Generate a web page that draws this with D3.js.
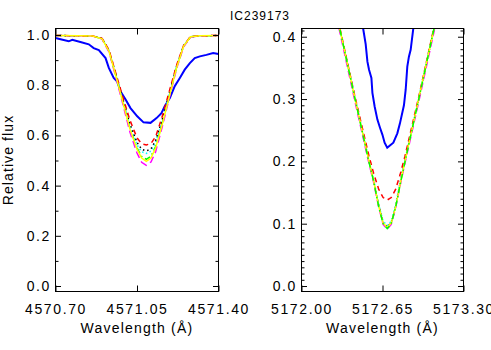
<!DOCTYPE html>
<html>
<head>
<meta charset="utf-8">
<script src="https://cdn.jsdelivr.net/npm/d3@7"></script>
<style>
  body { margin: 0; background: #fff; }
  svg text { font-family: "Liberation Sans", Arial, sans-serif; fill: #000; }
</style>
</head>
<body>
<div id="chart"></div>
<script>
const title = 'IC239173';

// left panel, line near 4571.05 A
const xTicksL = [4570.70, 4571.05, 4571.40];
const yTicksL = [0.0, 0.2, 0.4, 0.6, 0.8, 1.0];
const yMinorL = [0.1, 0.3, 0.5, 0.7, 0.9];

const obsWaveL = [4570.700, 4570.726, 4570.757, 4570.772, 4570.807, 4570.843, 4570.864, 4570.886, 4570.915, 4570.929,
  4570.950, 4570.965, 4570.979, 4571.001, 4571.022, 4571.051, 4571.078, 4571.108, 4571.134, 4571.155,
  4571.169, 4571.191, 4571.212, 4571.234, 4571.255, 4571.277, 4571.298, 4571.320, 4571.348, 4571.377, 4571.400];
const obsFluxL = [0.988, 0.982, 0.975, 0.981, 0.972, 0.963, 0.948, 0.940, 0.908, 0.869,
  0.829, 0.815, 0.776, 0.743, 0.709, 0.676, 0.652, 0.650, 0.669, 0.689,
  0.716, 0.749, 0.796, 0.829, 0.862, 0.888, 0.908, 0.915, 0.921, 0.928, 0.924];

const modWaveL = [4570.70, 4570.80, 4570.86, 4570.90, 4570.93, 4570.96, 4570.99, 4571.02, 4571.05, 4571.07,
  4571.09, 4571.11, 4571.13, 4571.16, 4571.19, 4571.22, 4571.25, 4571.28, 4571.32, 4571.40];
const yellowL  = [0.998, 0.997, 0.996, 0.985, 0.935, 0.835, 0.730, 0.625, 0.545, 0.510,
  0.497, 0.510, 0.550, 0.650, 0.760, 0.870, 0.955, 0.993, 0.997, 0.998];
const greenL   = [0.998, 0.997, 0.996, 0.985, 0.936, 0.836, 0.732, 0.628, 0.550, 0.516,
  0.505, 0.517, 0.556, 0.654, 0.762, 0.871, 0.955, 0.993, 0.997, 0.998];
const cyanL    = [0.998, 0.997, 0.996, 0.986, 0.937, 0.838, 0.737, 0.638, 0.562, 0.535,
  0.528, 0.537, 0.572, 0.662, 0.768, 0.874, 0.956, 0.993, 0.997, 0.998];
const blackL   = [0.998, 0.997, 0.996, 0.986, 0.938, 0.840, 0.742, 0.645, 0.572, 0.545,
  0.538, 0.546, 0.580, 0.668, 0.772, 0.876, 0.957, 0.993, 0.997, 0.998];
const magentaL = [0.998, 0.997, 0.996, 0.984, 0.932, 0.830, 0.722, 0.612, 0.530, 0.493,
  0.481, 0.494, 0.535, 0.640, 0.755, 0.866, 0.953, 0.992, 0.997, 0.998];
const redL     = [0.998, 0.997, 0.996, 0.987, 0.940, 0.845, 0.750, 0.660, 0.590, 0.567,
  0.562, 0.568, 0.595, 0.680, 0.780, 0.880, 0.958, 0.994, 0.997, 0.998];

// right panel, Mg b line near 5172.7 A
const xTicksR = [5172.00, 5172.65, 5173.30];
const yTicksR = [0.0, 0.1, 0.2, 0.3, 0.4];
const yMinorR = [0.01, 0.02, 0.03, 0.04, 0.05, 0.06, 0.07, 0.08, 0.09,
  0.11, 0.12, 0.13, 0.14, 0.15, 0.16, 0.17, 0.18, 0.19,
  0.21, 0.22, 0.23, 0.24, 0.25, 0.26, 0.27, 0.28, 0.29,
  0.31, 0.32, 0.33, 0.34, 0.35, 0.36, 0.37, 0.38, 0.39, 0.41];

const obsWaveR = [5172.470, 5172.494, 5172.515, 5172.529, 5172.542, 5172.561, 5172.569, 5172.587, 5172.609, 5172.630,
  5172.649, 5172.667, 5172.688, 5172.712, 5172.737, 5172.769, 5172.790, 5172.822, 5172.836, 5172.849,
  5172.862, 5172.876, 5172.897, 5172.920];
const obsFluxR = [0.460, 0.414, 0.388, 0.360, 0.347, 0.334, 0.310, 0.288, 0.267, 0.254,
  0.243, 0.230, 0.222, 0.226, 0.230, 0.245, 0.261, 0.290, 0.315, 0.352,
  0.368, 0.379, 0.413, 0.460];

const modWaveR = [5172.17, 5172.31, 5172.43, 5172.54, 5172.58, 5172.62, 5172.655, 5172.688,
  5172.72, 5172.755, 5172.79, 5172.83, 5172.94, 5173.06, 5173.20];
const yellowR  = [0.540, 0.410, 0.300, 0.202, 0.168, 0.128, 0.101, 0.094, 0.101, 0.127, 0.162, 0.200, 0.300, 0.410, 0.540];
const greenR   = [0.538, 0.410, 0.300, 0.200, 0.167, 0.127, 0.100, 0.092, 0.100, 0.126, 0.161, 0.199, 0.299, 0.410, 0.538];
const cyanR    = [0.540, 0.410, 0.301, 0.203, 0.170, 0.130, 0.104, 0.097, 0.104, 0.130, 0.165, 0.202, 0.301, 0.410, 0.540];
const blackR   = [0.540, 0.410, 0.301, 0.203, 0.169, 0.129, 0.102, 0.095, 0.102, 0.128, 0.164, 0.201, 0.300, 0.410, 0.540];
const magentaR = [0.535, 0.405, 0.295, 0.198, 0.165, 0.126, 0.099, 0.091, 0.099, 0.125, 0.160, 0.197, 0.295, 0.405, 0.535];
const redR     = [0.540, 0.412, 0.303, 0.210, 0.180, 0.155, 0.142, 0.138, 0.142, 0.155, 0.178, 0.208, 0.303, 0.412, 0.540];

const svg = d3.select('#chart').append('svg')
  .attr('width', 491)
  .attr('height', 350);

svg.append('text')
  .attr('x', 260)
  .attr('y', 20)
  .attr('text-anchor', 'middle')
  .style('font-size', '12px')
  .style('letter-spacing', '1px')
  .text(title);

svg.append('text')
  .attr('transform', 'translate(13,160) rotate(-90)')
  .attr('text-anchor', 'middle')
  .style('font-size', '14px')
  .style('letter-spacing', '1.1px')
  .text('Relative flux');

function panel(id, box, xDomain, yDomain, xTicks, yTicks, yMinor, fmtX, fmtY, obs, models) {
  let x = d3.scaleLinear().domain(xDomain).range([box.left, box.right]),
    y = d3.scaleLinear().domain(yDomain).range([box.bottom, box.top]);

  svg.append('clipPath')
    .attr('id', id)
    .append('rect')
    .attr('x', box.left)
    .attr('y', box.top)
    .attr('width', box.right - box.left)
    .attr('height', box.bottom - box.top);

  let line = d3.line()
    .x(d => x(d[0]))
    .y(d => y(d[1]));

  let g = svg.append('g').attr('clip-path', 'url(#' + id + ')');

  g.append('path')
    .datum(d3.zip(obs.wave, obs.flux))
    .attr('d', line)
    .attr('fill', 'none')
    .attr('stroke', '#0000ff')
    .attr('stroke-width', 2);

  models.forEach(m => {
    g.append('path')
      .datum(d3.zip(m.wave, m.flux))
      .attr('d', line)
      .attr('fill', 'none')
      .attr('stroke', m.color)
      .attr('stroke-width', 1.5)
      .attr('stroke-dasharray', m.dash);
  });

  // axes, ticks pointing inward
  let bottom = svg.append('g')
    .attr('transform', 'translate(0,' + box.bottom + ')')
    .call(d3.axisBottom(x).tickValues(xTicks).tickSize(-6).tickPadding(12.5).tickFormat(fmtX));
  svg.append('g')
    .attr('transform', 'translate(0,' + box.top + ')')
    .call(d3.axisTop(x).tickValues(xTicks).tickSize(-6).tickFormat(''));

  let left = svg.append('g')
    .attr('transform', 'translate(' + box.left + ',0)')
    .call(d3.axisLeft(y).tickValues(yTicks).tickSize(-5.5).tickPadding(4.5).tickFormat(fmtY));
  svg.append('g')
    .attr('transform', 'translate(' + box.left + ',0)')
    .call(d3.axisLeft(y).tickValues(yMinor).tickSize(-3).tickFormat(''));
  svg.append('g')
    .attr('transform', 'translate(' + box.right + ',0)')
    .call(d3.axisRight(y).tickValues(yTicks).tickSize(-5.5).tickFormat(''));
  svg.append('g')
    .attr('transform', 'translate(' + box.right + ',0)')
    .call(d3.axisRight(y).tickValues(yMinor).tickSize(-3).tickFormat(''));

  svg.selectAll('.domain').remove();
  svg.selectAll('.tick line').attr('stroke', '#000');

  [bottom, left].forEach(a => a.selectAll('text')
    .style('font-size', '14px')
    .style('letter-spacing', '1.6px')
    .style('font-family', '"Liberation Sans", Arial, sans-serif'));

  svg.append('rect')
    .attr('x', box.left)
    .attr('y', box.top)
    .attr('width', box.right - box.left)
    .attr('height', box.bottom - box.top)
    .attr('fill', 'none')
    .attr('stroke', '#000')
    .attr('stroke-width', 1);

  svg.append('text')
    .attr('x', (box.left + box.right) / 2)
    .attr('y', 333)
    .attr('text-anchor', 'middle')
    .style('font-size', '14px')
    .style('letter-spacing', '1.2px')
    .text('Wavelength (\u00c5)');
}

panel('clipL', {left: 55.5, right: 218.5, top: 28.5, bottom: 291.5},
  [4570.70, 4571.40], [-0.0219, 1.026], xTicksL, yTicksL, yMinorL,
  d3.format('.2f'), d3.format('.1f'),
  {wave: obsWaveL, flux: obsFluxL},
  [
    {wave: modWaveL, flux: greenL, color: '#00ff00', dash: '6,3,1.5,3'},
    {wave: modWaveL, flux: cyanL, color: '#00ffff', dash: '1.5,2.5'},
    {wave: modWaveL, flux: blackL, color: '#000000', dash: '1.5,3'},
    {wave: modWaveL, flux: magentaL, color: '#ff00ff', dash: '7,4'},
    {wave: modWaveL, flux: redL, color: '#ff0000', dash: '5,4'},
    {wave: modWaveL, flux: yellowL, color: '#ffff00', dash: null}
  ]);

panel('clipR', {left: 301.5, right: 463.5, top: 28.5, bottom: 291.5},
  [5172.00, 5173.30], [-0.0088, 0.4132], xTicksR, yTicksR, yMinorR,
  d3.format('.2f'), d3.format('.1f'),
  {wave: obsWaveR, flux: obsFluxR},
  [
    {wave: modWaveR, flux: blackR, color: '#000000', dash: '1.5,3'},
    {wave: modWaveR, flux: cyanR, color: '#00ffff', dash: '1.5,2.5'},
    {wave: modWaveR, flux: magentaR, color: '#ff00ff', dash: '7,4'},
    {wave: modWaveR, flux: redR, color: '#ff0000', dash: '5,4'},
    {wave: modWaveR, flux: yellowR, color: '#ffff00', dash: null},
    {wave: modWaveR, flux: greenR, color: '#00ff00', dash: '6,3,1.5,3'}
  ]);
</script>
</body>
</html>
